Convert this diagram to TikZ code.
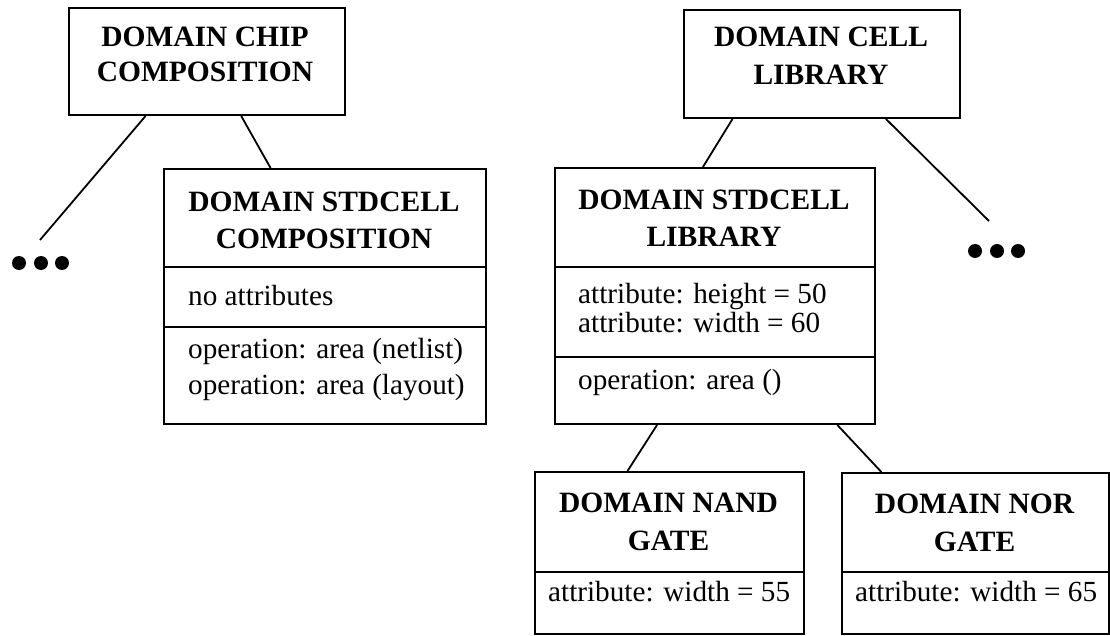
\documentclass[tikz,border=0pt]{standalone}
\usepackage{fontspec}
\setmainfont{Liberation Serif}
\usetikzlibrary{calc}
\begin{document}
\begin{tikzpicture}[x=1pt,y=-1pt,
  box/.style={draw, line width=2pt, inner sep=0pt, anchor=north west},
  divider/.style={line width=2pt},
  ttl/.style={font=\fontsize{29.5}{34}\selectfont\bfseries, anchor=base, inner sep=0pt},
  txt/.style={font=\fontsize{29.2}{34}\selectfont, anchor=base west, inner sep=0pt},
  link/.style={line width=1.8pt},
  dot/.style={circle, fill, inner sep=0pt, minimum size=14pt}]
\useasboundingbox (0,0) rectangle (1110,636);
% boxes
\node[box, minimum width=276pt, minimum height=107pt] (chip) at (68,7) {};
\node[box, minimum width=276pt, minimum height=108pt] (cell) at (683,9) {};
\node[box, minimum width=322pt, minimum height=255pt] (scomp) at (163,168) {};
\node[box, minimum width=320pt, minimum height=256pt] (slib) at (554,167) {};
\node[box, minimum width=269pt, minimum height=162pt] (nand) at (534,471) {};
\node[box, minimum width=267pt, minimum height=161pt] (nor) at (841,472) {};
% compartments
\draw[divider] (scomp.west |- 0,267) -- (scomp.east |- 0,267);
\draw[divider] (scomp.west |- 0,327) -- (scomp.east |- 0,327);
\draw[divider] (slib.west |- 0,267) -- (slib.east |- 0,267);
\draw[divider] (slib.west |- 0,357) -- (slib.east |- 0,357);
\draw[divider] (nand.west |- 0,572) -- (nand.east |- 0,572);
\draw[divider] (nor.west |- 0,572) -- (nor.east |- 0,572);
% texts
\node[ttl] (chipA) at (205,47) {DOMAIN CHIP};
\node[ttl] (chipB) at (205,82) {COMPOSITION};
\node[ttl] (cellA) at (821,47) {DOMAIN CELL};
\node[ttl] (cellB) at (821,85) {LIBRARY};
\node[ttl] (scompA) at (324,212) {DOMAIN STDCELL};
\node[ttl] (scompB) at (324,248) {COMPOSITION};
\node[txt] (scompC) at (188,305) {no attributes};
\node[txt] (scompD) at (188,358) {operation: area (netlist)};
\node[txt] (scompE) at (188,394) {operation: area (layout)};
\node[ttl] (slibA) at (714,210) {DOMAIN STDCELL};
\node[ttl] (slibB) at (714,247) {LIBRARY};
\node[txt] (slibC) at (578,303) {attribute: height = 50};
\node[txt] (slibD) at (578,332) {attribute: width = 60};
\node[txt] (slibE) at (578,389) {operation: area ()};
\node[ttl] (nandA) at (668.5,512) {DOMAIN NAND};
\node[ttl] (nandB) at (668.5,550) {GATE};
\node[txt] (nandC) at (548,601) {attribute: width = 55};
\node[ttl] (norA) at (974.5,513) {DOMAIN NOR};
\node[ttl] (norB) at (974.5,551) {GATE};
\node[txt] (norC) at (855,601) {attribute: width = 65};
% dots
\node[dot] (dl1) at (19,263) {};
\node[dot] (dl2) at (41,263) {};
\node[dot] (dl3) at (62,263) {};
\node[dot] (dr1) at (975,251) {};
\node[dot] (dr2) at (997,251) {};
\node[dot] (dr3) at (1018,251) {};
\coordinate (lend) at (40,240);
\coordinate (rend) at (989,221);
% connectors
\draw[link] ($(chip.south west)!0.279!(chip.south east)$) -- (lend);
\draw[link] ($(chip.south west)!0.623!(chip.south east)$) -- ($(scomp.north west)!0.332!(scomp.north east)$);
\draw[link] ($(cell.south west)!0.178!(cell.south east)$) -- ($(slib.north west)!0.4625!(slib.north east)$);
\draw[link] ($(cell.south west)!0.73!(cell.south east)$) -- (rend);
\draw[link] ($(slib.south west)!0.32!(slib.south east)$) -- ($(nand.north west)!0.345!(nand.north east)$);
\draw[link] ($(slib.south west)!0.88!(slib.south east)$) -- ($(nor.north west)!0.15!(nor.north east)$);
\end{tikzpicture}
\end{document}
